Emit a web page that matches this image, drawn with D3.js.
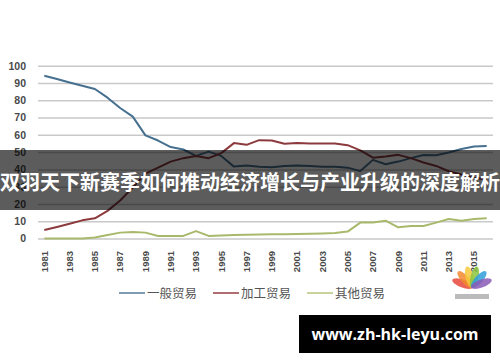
<!DOCTYPE html>
<html>
<head>
<meta charset="utf-8">
<script src="https://cdn.jsdelivr.net/npm/d3@7"></script>
<style>
  body { margin: 0; background: #fff; }
  svg { display: block; }
  .axis path { display: none; }
  .axis-y .tick line { stroke: #c9c9c9; stroke-width: 1.5; }
  .axis text { font-family: 'Liberation Sans', Arial, sans-serif; font-weight: bold; fill: #4a4a4a; }
</style>
</head>
<body>
<svg id="chart"></svg>
<script>
// years on the category axis
const years = [1981, 1982, 1983, 1984, 1985, 1986, 1987, 1988, 1989, 1990,
  1991, 1992, 1993, 1994, 1995, 1996, 1997, 1998, 1999, 2000,
  2001, 2002, 2003, 2004, 2005, 2006, 2007, 2008, 2009, 2010,
  2011, 2012, 2013, 2014, 2015, 2016];
const yearTicks = [1981, 1983, 1985, 1987, 1989, 1991, 1993, 1995, 1997, 1999,
  2001, 2003, 2005, 2007, 2009, 2011, 2013, 2015];
const yTicks = [0, 10, 20, 30, 40, 50, 60, 70, 80, 90, 100];

// share of trade, %
const general = [94.2, 92.3, 90.3, 88.4, 86.5, 81.5, 75.5, 70.5, 59.7, 56.7,
  52.9, 51.5, 47.8, 50.3, 47.8, 41.6, 42.2, 41.5, 41.2, 42,
  42.2, 42, 41.5, 41.5, 41, 39, 45.5, 43, 44.5, 46.5,
  48.3, 48.2, 49.8, 51.8, 53.3, 53.6];
const processing = [4.9, 6.7, 8.5, 10.5, 11.7, 16, 22, 29.5, 37.5, 41,
  44.5, 46.5, 47.8, 46.5, 49.4, 55.2, 54.2, 56.9, 56.7, 54.8,
  55.2, 55, 55, 55, 54, 51, 46.8, 47.5, 48.4, 46.5,
  44, 42, 38.9, 37, 35.1, 34.1];
const other = [0, 0, 0, 0, 0.6, 2, 3.4, 3.8, 3.4, 1.5,
  1.5, 1.5, 4.3, 1.5, 1.8, 2, 2.2, 2.3, 2.4, 2.5,
  2.6, 2.7, 2.9, 3.2, 4, 9.2, 9.2, 10.3, 6.5, 7.2,
  7.2, 9.2, 11.3, 10.3, 11.3, 11.7];

const seriesNames = ['一般贸易', '加工贸易', '其他贸易'];
const seriesColors = ['#46708f', '#8c3a3e', '#a9b96c'];
const legendColors = ['#7d9bb3', '#b06e70', '#c9d39c'];

const title = '双羽天下新赛季如何推动经济增长与产业升级的深度解析';
const site = 'www.zh-hk-leyu.com';

const w = 500;
const h = 362;
const svg = d3.select('#chart').attr('width', w).attr('height', h);

const x = d3.scaleBand().domain(years).range([38, 493]);
const y = d3.scaleLinear().domain([0, 100]).range([238.5, 65.7]);
const cx = d => x(d) + x.bandwidth() / 2;

// gridlines + y labels
svg.append('g')
  .attr('class', 'axis axis-y')
  .attr('transform', 'translate(38,0)')
  .call(d3.axisLeft(y).tickValues(yTicks).tickSize(-455).tickPadding(12))
  .selectAll('text')
  .attr('font-size', 10.5);

// x labels, rotated
svg.append('g')
  .attr('class', 'axis axis-x')
  .attr('transform', 'translate(0,249)')
  .call(d3.axisBottom(x).tickValues(yearTicks).tickSize(0))
  .call(g => g.selectAll('line').remove())
  .selectAll('text')
  .attr('font-size', 9.5)
  .attr('text-anchor', 'end')
  .attr('dy', '0.35em')
  .attr('transform', 'rotate(-90)')
  .attr('x', -2)
  .attr('y', 0);

const line = d3.line()
  .x((d, i) => cx(years[i]))
  .y(d => y(d));

const all = [general, processing, other];
svg.append('g')
  .selectAll('path')
  .data(all)
  .join('path')
  .attr('d', line)
  .attr('fill', 'none')
  .attr('stroke', (d, i) => seriesColors[i])
  .attr('stroke-width', 2)
  .attr('stroke-linejoin', 'round');

// legend
const legendX = [119, 213, 307];
const legend = svg.append('g')
  .selectAll('g')
  .data(seriesNames)
  .join('g')
  .attr('transform', (d, i) => `translate(${legendX[i]},293)`);
legend.append('line')
  .attr('x1', 0).attr('x2', 26)
  .attr('stroke', (d, i) => legendColors[i])
  .attr('stroke-width', 2);
legend.append('text')
  .attr('x', 28)
  .attr('dy', '0.36em')
  .attr('font-family', "'Noto Sans CJK SC', sans-serif")
  .attr('font-size', 12.5)
  .attr('fill', '#555')
  .text(d => d);

// small peacock logo
const logo = svg.append('g').attr('transform', 'translate(472,287)');
const petals = ['#e8463c', '#f28a2e', '#f6c93a', '#8cc63f', '#2f9fd8', '#8a5bb5'];
logo.selectAll('ellipse')
  .data(petals)
  .join('ellipse')
  .attr('rx', 4)
  .attr('ry', 11)
  .attr('cy', -10)
  .attr('fill', d => d)
  .attr('opacity', 0.85)
  .attr('transform', (d, i) => `rotate(${-70 + i * 28})`);
logo.append('rect')
  .attr('x', -17).attr('y', 7).attr('width', 34).attr('height', 5)
  .attr('fill', '#bbb');

// dark banner with headline
svg.append('rect')
  .attr('x', 0).attr('y', 150).attr('width', w).attr('height', 60)
  .attr('fill', 'rgba(0,0,0,0.64)');
svg.append('text')
  .attr('x', w / 2)
  .attr('y', 183)
  .attr('dy', '0.36em')
  .attr('text-anchor', 'middle')
  .attr('font-family', "'Noto Sans CJK SC', sans-serif")
  .attr('font-weight', 'bold')
  .attr('font-size', 20)
  .attr('fill', '#fff')
  .text(title);

// site watermark
svg.append('rect')
  .attr('x', 299).attr('y', 315).attr('width', 192).attr('height', 38)
  .attr('fill', '#000');
svg.append('text')
  .attr('x', 395)
  .attr('y', 334)
  .attr('dy', '0.36em')
  .attr('text-anchor', 'middle')
  .attr('font-family', "'Open Sans', 'DejaVu Sans', sans-serif")
  .attr('font-weight', 'bold')
  .attr('font-size', 16)
  .attr('fill', '#fff')
  .text(site);
</script>
</body>
</html>
